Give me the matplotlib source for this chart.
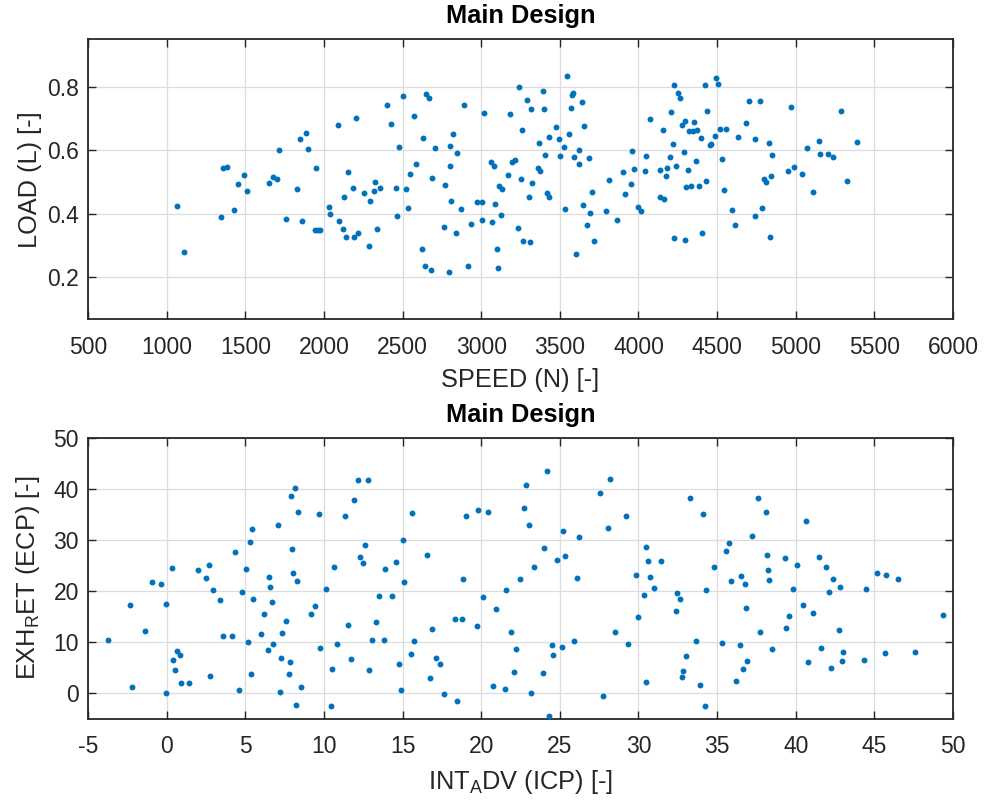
import matplotlib
matplotlib.use("Agg")
import matplotlib.pyplot as plt

plt.rcParams['font.family'] = ['Liberation Sans', 'DejaVu Sans']
plt.rcParams['mathtext.fontset'] = 'custom'
plt.rcParams['mathtext.rm'] = 'Liberation Sans'
plt.rcParams['mathtext.it'] = 'Liberation Sans:italic'
plt.rcParams['mathtext.bf'] = 'Liberation Sans:bold'
plt.rcParams['axes.unicode_minus'] = False

# ---------------- data ----------------
speed = [1064, 1112, 1345, 1360, 1381, 1426, 1456, 1492, 1509, 1653, 1674, 1699, 1714, 1759, 1831, 1846,
         1860, 1884, 1896,
         1947, 1943, 1960, 1975, 2030, 2038, 2089, 2098, 2119, 2125, 2140, 2155, 2182, 2191, 2202, 2214,
         2257, 2286, 2293, 2316, 2325, 2339, 2358, 2399, 2426, 2456, 2462, 2477, 2502, 2522, 2536, 2545,
         2575, 2583, 2625, 2632, 2640, 2647, 2670, 2681, 2685, 2706, 2765, 2772, 2797, 2801, 2803, 2810,
         2818, 2837, 2848, 2869, 2890, 2914, 2935, 2975, 3003, 3003, 3015, 3060, 3079, 3066, 3089, 3098,
         3104, 3115, 3130, 3128, 3170, 3185, 3195, 3212, 3236, 3242, 3251, 3257, 3263,
         3291, 3310, 3318, 3301, 3325, 3363, 3373, 3369, 3390, 3397, 3405, 3416, 3433, 3431, 3473, 3494,
         3500, 3524, 3530, 3545, 3560, 3568, 3575, 3583, 3587, 3604, 3619, 3625, 3640, 3649, 3655, 3676,
         3685, 3691, 3702, 3717, 3791, 3810, 3863, 3899, 3914, 3952, 3958, 3973, 3998, 4015, 4039, 4047,
         4075, 4134, 4136, 4162, 4157, 4172, 4181, 4202, 4208, 4217, 4223, 4227, 4236, 4249, 4263, 4280,
         4287, 4295, 4299, 4302, 4312, 4321, 4337, 4354, 4346, 4369, 4374, 4384, 4399, 4405, 4422, 4431,
         4437, 4454, 4462, 4486, 4496, 4507, 4518, 4532, 4547, 4556, 4596, 4613, 4636,
         4683, 4702, 4738, 4744, 4776, 4783, 4797, 4814, 4827, 4835, 4842, 4848, 4950, 4973, 4988, 5037,
         5069, 5113, 5147, 5155, 5206, 5238, 5291, 5323, 5391]
load = [0.426, 0.279, 0.389, 0.546, 0.548, 0.411, 0.493, 0.524, 0.471, 0.497, 0.517, 0.509, 0.600, 0.384,
        0.478, 0.635, 0.377, 0.655, 0.606,
        0.544, 0.349, 0.349, 0.349, 0.422, 0.401, 0.680, 0.377, 0.353, 0.452, 0.328, 0.531, 0.481, 0.326,
        0.703, 0.340, 0.467, 0.299, 0.442, 0.473, 0.499, 0.352, 0.481, 0.744, 0.682, 0.483, 0.393, 0.610,
        0.771, 0.478, 0.419, 0.526, 0.710, 0.556, 0.289, 0.639, 0.236, 0.777, 0.764, 0.223, 0.512, 0.609,
        0.358, 0.491, 0.217, 0.550, 0.615, 0.442, 0.653, 0.341, 0.591, 0.416, 0.744, 0.237, 0.368, 0.437,
        0.437, 0.381, 0.719, 0.563, 0.551, 0.374, 0.432, 0.288, 0.230, 0.487, 0.477, 0.396, 0.521, 0.715,
        0.565, 0.570, 0.355, 0.800, 0.510, 0.663, 0.313,
        0.759, 0.311, 0.732, 0.454, 0.496, 0.544, 0.534, 0.622, 0.787, 0.731, 0.586, 0.466, 0.454, 0.643,
        0.675, 0.637, 0.582, 0.612, 0.416, 0.836, 0.651, 0.734, 0.774, 0.781, 0.579, 0.274, 0.556, 0.602,
        0.753, 0.429, 0.678, 0.366, 0.577, 0.404, 0.469, 0.314, 0.409, 0.506, 0.380, 0.533, 0.463, 0.493,
        0.599, 0.540, 0.422, 0.409, 0.536, 0.583, 0.698, 0.538, 0.454, 0.446, 0.665, 0.519, 0.546, 0.578,
        0.721, 0.620, 0.323, 0.806, 0.551, 0.780, 0.764, 0.679, 0.595, 0.317, 0.693, 0.486, 0.537, 0.662,
        0.488, 0.690, 0.661, 0.567, 0.664, 0.489, 0.640, 0.339, 0.805, 0.503, 0.725, 0.617, 0.619, 0.646,
        0.829, 0.810, 0.668, 0.574, 0.475, 0.667, 0.413, 0.364, 0.642,
        0.686, 0.755, 0.635, 0.394, 0.755, 0.418, 0.509, 0.500, 0.624, 0.328, 0.520, 0.587, 0.534, 0.738,
        0.547, 0.527, 0.607, 0.470, 0.630, 0.589, 0.588, 0.579, 0.724, 0.504, 0.627]

int_adv = [-3.73, -2.33, -2.18, -1.38, -0.93, -0.36, -0.02, -0.02, 0.34, 0.40, 0.55, 0.64, 0.83, 0.91, 1.44,
           2.01, 2.48, 2.69, 2.78, 2.93, 3.37, 3.58, 4.18, 4.37, 4.62, 4.77, 5.02, 5.19, 5.28, 5.34, 5.43,
           5.49, 6.00, 6.21, 6.44, 6.51, 6.57, 6.68, 6.74, 7.10, 7.19, 7.25, 7.31, 7.61, 7.78, 7.84, 7.91,
           7.97, 8.04, 8.16, 8.23, 8.29, 8.35, 8.54,
           9.19, 9.41, 9.66, 9.72, 10.15, 10.45, 10.53, 10.66, 10.81, 11.31, 11.55, 11.70, 11.91, 12.14,
           12.31, 12.50, 12.59, 12.80, 12.86, 13.07, 13.31, 13.50, 13.82, 13.90, 14.32, 14.56, 14.77, 14.92,
           15.00, 15.09, 15.51, 15.62, 15.75, 16.53, 16.76, 16.85, 17.12, 17.38, 17.65, 18.35, 18.48, 18.80,
           18.82, 19.03, 19.73, 19.79, 20.13, 20.45, 20.75, 20.92, 21.49, 21.55, 21.91, 22.06, 22.21, 22.49,
           22.72, 22.87,
           23.03, 23.16, 23.39, 23.90, 24.02, 24.19, 24.34, 24.49, 24.58, 24.79, 25.15, 25.21, 25.32, 25.89,
           26.12, 26.19, 27.57, 27.73, 28.09, 28.18, 28.48, 29.20, 29.35, 29.85, 29.94, 30.38, 30.45, 30.51,
           30.58, 30.75, 31.02, 31.42, 32.36, 32.42, 32.61, 32.76, 32.84, 33.03, 33.25, 33.63, 33.93, 34.12,
           34.24, 34.29, 34.82, 35.30, 35.54, 35.77, 35.90, 36.19,
           36.46, 36.54, 36.67, 36.76, 36.86, 36.93, 37.20, 37.60, 37.71, 38.11, 38.18, 38.24, 38.33, 38.47,
           39.34, 39.41, 39.55, 39.81, 40.08, 40.47, 40.68, 40.81, 41.12, 41.48, 41.63, 41.93, 42.14, 42.25,
           42.37, 42.76, 42.84, 42.95, 43.03, 44.35, 44.49, 45.15, 45.68, 45.77, 46.51, 47.61, 49.37]
exh_ret = [10.34, 17.25, 1.23, 12.15, 21.65, 21.32, 17.45, 0.06, 24.43, 6.53, 4.46, 8.14, 7.43, 2.00, 2.00,
           24.10, 22.49, 25.08, 3.42, 20.10, 18.16, 11.18, 11.18, 27.53, 0.52, 19.84, 24.36, 9.89, 29.66,
           3.75, 32.18, 18.48, 11.50, 15.38, 8.34, 22.81, 20.81, 17.77, 9.50, 32.89, 0.19, 6.79, 11.76,
           14.02, 3.68, 6.14, 38.58, 28.11, 23.59, 40.13, -2.33, 21.91, 35.48, 1.16,
           15.44, 17.06, 35.02, 8.85, 20.29, -2.46, 4.78, 24.62, 9.69, 34.70, 13.25, 6.66, 37.74, 41.81,
           26.62, 25.40, 28.95, 41.81, 4.59, 10.47, 13.83, 19.00, 10.47, 24.23, 19.00, 25.65, 5.69, 0.58,
           29.98, 21.71, 7.69, 35.28, 10.21, 27.01, 2.91, 12.54, 6.92, 5.75, -0.19, 14.54, -1.62, 14.41,
           22.23, 34.64, 13.12, 35.80, 18.87, 35.48, 1.29, 16.48, 0.84, 20.16, 12.02, 4.07, 8.66, 22.42,
           36.25, 40.78,
           32.83, 0.00, 24.68, 3.88, 28.37, 43.55, -4.59, 9.31, 7.37, 25.98, 9.05, 31.73, 26.82, 10.21,
           22.55, 30.50, 39.10, -0.58, 32.31, 41.87, 11.89, 34.64, 9.56, 23.13, 14.86, 19.19, 2.07, 28.56,
           25.91, 22.68, 20.61, 25.85, 15.96, 19.58, 18.35, 3.04, 4.27, 7.17, 38.26, 10.15, 1.49, 35.02,
           -2.46, 20.23, 24.62, 9.82, 27.79, 29.47, 21.84, 2.26,
           9.43, 22.94, 4.72, 21.32, 16.74, 6.27, 30.82, 38.13, 11.95, 35.35, 27.08, 24.04, 22.04, 8.66,
           26.37, 12.73, 15.12, 20.42, 25.07, 17.32, 33.73, 6.14, 15.64, 26.69, 8.72, 24.75, 19.77, 4.85,
           22.42, 12.34, 20.68, 6.33, 8.01, 6.46, 20.42, 23.52, 7.75, 23.20, 22.29, 8.01, 15.32]

title_text = "Main Design"
xlabel_top = "SPEED (N) [-]"
ylabel_top = "LOAD (L) [-]"
xlabel_bot = r"INT$_\mathrm{A}$DV (ICP) [-]"
ylabel_bot = r"EXH$_\mathrm{R}$ET (ECP) [-]"

xticks_top = list(range(500, 6001, 500))
yticks_top = [0.2, 0.4, 0.6, 0.8]
xticks_bot = list(range(-5, 51, 5))
yticks_bot = [0, 10, 20, 30, 40, 50]

# ---------------- style ----------------
DOT = '#0072BD'
AXC = '#262626'
GRID = '#dcdcdc'
TICK_FS = 16.5
LAB_FS = 18.3

fig = plt.figure(figsize=(9.86, 8.0), dpi=100)
fig.patch.set_facecolor('white')

W, H = 986.0, 800.0
left_px, right_px = 88.0, 953.0


def make_axes(top_px, bot_px):
    return fig.add_axes([left_px / W, 1 - bot_px / H, (right_px - left_px) / W, (bot_px - top_px) / H])


def style(ax, xticks, yticks, xlim, ylim, xl, yl):
    ax.set_xlim(*xlim)
    ax.set_ylim(*ylim)
    ax.set_xticks(xticks)
    ax.set_yticks(yticks)
    ax.grid(True, color=GRID, linewidth=0.9, zorder=0)
    ax.set_axisbelow(True)
    for s in ax.spines.values():
        s.set_color(AXC)
        s.set_linewidth(1.3)
    ax.tick_params(axis='both', direction='in', top=True, right=True, length=6, width=1.0,
                   color=AXC, labelcolor=AXC, labelsize=TICK_FS)
    ax.tick_params(axis='x', pad=12.0)
    ax.tick_params(axis='y', pad=6.5)
    ax.set_title(title_text, fontsize=LAB_FS, fontweight='bold', color='black', pad=11.5)
    ax.set_xlabel(xl, fontsize=LAB_FS, color=AXC)
    ax.set_ylabel(yl, fontsize=LAB_FS, color=AXC)
    ax.xaxis.set_label_coords(0.5, -0.175)
    ax.yaxis.set_label_coords(-0.053, 0.5)


ax1 = make_axes(39.3, 319.3)
ax1.scatter(speed, load, s=18, color=DOT, linewidths=0, zorder=3)
style(ax1, xticks_top, yticks_top, (500, 6000), (0.0675, 0.9505), xlabel_top, ylabel_top)
ax1.set_yticklabels([f"{v:.1f}" for v in yticks_top])

ax2 = make_axes(437.7, 718.5)
ax2.scatter(int_adv, exh_ret, s=18, color=DOT, linewidths=0, zorder=3)
style(ax2, xticks_bot, yticks_bot, (-5, 50), (-5, 50), xlabel_bot, ylabel_bot)

fig.savefig('out.png', dpi=100, facecolor='white')
